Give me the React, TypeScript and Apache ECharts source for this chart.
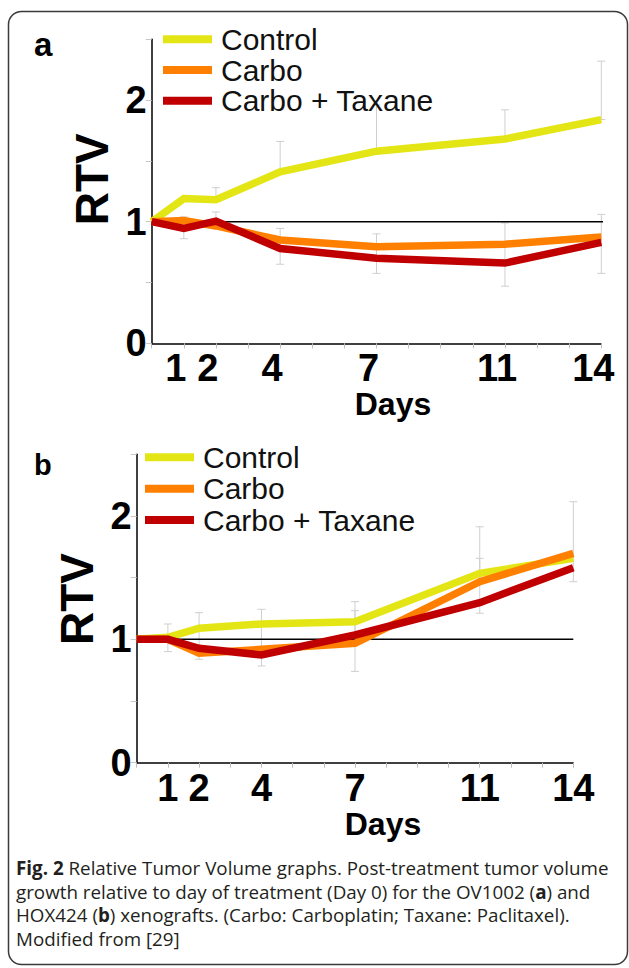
import React, { useEffect, useRef } from "react";
import * as echarts from "echarts";

// ---------- data ----------
const days = [0, 1, 2, 4, 7, 11, 14];
const labelledDays = [1, 2, 4, 7, 11, 14];
const seriesNames = ["Control", "Carbo", "Carbo + Taxane"];
const seriesColors = ["#e3e614", "#ff8000", "#c00000"];

// Panel a (OV1002)
const controlA = [1.0, 1.19, 1.18, 1.41, 1.58, 1.68, 1.84];
const carboA = [1.0, 1.01, 0.965, 0.85, 0.795, 0.815, 0.875];
const carboTaxaneA = [1.0, 0.945, 1.005, 0.78, 0.7, 0.66, 0.83];
const errDayA = [1, 2, 2, 4, 4, 7, 7, 11, 11, 14, 14];
const errLowA = [0.86, 1.18, 0.965, 1.41, 0.65, 1.58, 0.575, 1.68, 0.47, 1.84, 0.575];
const errHighA = [1.04, 1.28, 1.08, 1.66, 0.945, 1.96, 0.9, 1.92, 0.99, 2.32, 1.06];

// Panel b (HOX424)
const controlB = [1.0, 1.016, 1.09, 1.124, 1.143, 1.535, 1.656];
const carboB = [1.0, 1.0, 0.887, 0.919, 0.968, 1.467, 1.697];
const carboTaxaneB = [1.0, 1.0, 0.927, 0.873, 1.035, 1.297, 1.58];
const errDayB = [1, 2, 4, 7, 7, 11, 11, 14];
const errLowB = [0.9, 0.838, 0.784, 0.74, 1.035, 1.211, 1.467, 1.467];
const errHighB = [1.124, 1.216, 1.243, 1.305, 1.232, 1.912, 1.656, 2.115];

const refLineA = [[0, 1], [14.2, 1]];
const refLineB = [[0, 1], [14, 1]];

const yTicks = { min: 0, max: 2.5, interval: 0.5 };

const captionLines = [
  "{b|Fig. 2} Relative Tumor Volume graphs. Post-treatment tumor volume",
  "growth relative to day of treatment (Day 0) for the OV1002 ({b|a}) and",
  "HOX424 ({b|b}) xenografts. (Carbo: Carboplatin; Taxane: Paclitaxel).",
  "Modified from [29]",
];

const FONT = "'Liberation Sans', Arial, Helvetica, sans-serif";
const CAP_FONT = "'Open Sans', sans-serif";

function pairs(xs: number[], ys: number[]) {
  return xs.map((x, i) => [x, ys[i]]);
}
function triples(xs: number[], lo: number[], hi: number[]) {
  return xs.map((x, i) => [x, lo[i], hi[i]]);
}

function errRender(params: any, api: any) {
  const x = api.value(0);
  const pLo = api.coord([x, api.value(1)]);
  const pHi = api.coord([x, api.value(2)]);
  const w = 4;
  const st = { stroke: "#cfcfcf", lineWidth: 1 };
  return {
    type: "group",
    children: [
      { type: "line", shape: { x1: pLo[0], y1: pLo[1], x2: pHi[0], y2: pHi[1] }, style: st },
      { type: "line", shape: { x1: pLo[0] - w, y1: pLo[1], x2: pLo[0] + w, y2: pLo[1] }, style: st },
      { type: "line", shape: { x1: pHi[0] - w, y1: pHi[1], x2: pHi[0] + w, y2: pHi[1] }, style: st },
    ],
  };
}

function makeXAxis(gridIndex: number, labelPad: number[], nameGap: number, namePad: number[]) {
  return {
    type: "value",
    gridIndex,
    min: 0,
    max: 14,
    interval: 1,
    name: "Days",
    nameLocation: "middle",
    nameGap,
    nameTextStyle: { fontFamily: FONT, fontWeight: "bold", fontSize: 32, color: "#000", padding: namePad },
    axisLine: { show: true, onZero: false, lineStyle: { color: "#000", width: 1.5 } },
    axisTick: { show: true, length: 5, lineStyle: { color: "#bdbdbd", width: 1 } },
    splitLine: { show: false },
    axisLabel: {
      margin: 6,
      fontFamily: FONT,
      fontWeight: "bold",
      fontSize: 38,
      color: "#000",
      padding: labelPad,
      formatter: (v: number) => (labelledDays.includes(v) ? String(v) : ""),
    },
  };
}

function makeYAxis(gridIndex: number, nameGap: number, namePad: number[]) {
  return {
    type: "value",
    gridIndex,
    min: yTicks.min,
    max: yTicks.max,
    interval: yTicks.interval,
    name: "RTV",
    nameLocation: "middle",
    nameRotate: 90,
    nameGap,
    nameTextStyle: { fontFamily: FONT, fontWeight: "bold", fontSize: 46, color: "#000", padding: namePad },
    axisLine: { show: true, onZero: false, lineStyle: { color: "#000", width: 1.5 } },
    axisTick: { show: true, length: 6, lineStyle: { color: "#c8c8c8", width: 1 } },
    splitLine: { show: false },
    axisLabel: {
      margin: 5,
      fontFamily: FONT,
      fontWeight: "bold",
      fontSize: 38,
      color: "#000",
      padding: [0, 0, 10, 0],
      formatter: (v: number) => (Number.isInteger(v) ? String(v) : ""),
    },
  };
}

function lineSeries(name: string, color: string, data: number[][], idx: number, z: number) {
  return {
    type: "line",
    name,
    xAxisIndex: idx,
    yAxisIndex: idx,
    data,
    color,
    symbol: "none",
    z,
    lineStyle: { color, width: 7.5, join: "miter", cap: "butt" },
  };
}

function refSeries(data: number[][], idx: number) {
  return {
    type: "line",
    name: "ref" + idx,
    xAxisIndex: idx,
    yAxisIndex: idx,
    data,
    clip: false,
    symbol: "none",
    z: 5,
    silent: true,
    lineStyle: { color: "#000", width: 1.5 },
  };
}

function errSeries(data: number[][], idx: number) {
  return {
    type: "custom",
    name: "err" + idx,
    xAxisIndex: idx,
    yAxisIndex: idx,
    data,
    z: 1,
    silent: true,
    encode: { x: 0, y: [1, 2] },
    renderItem: errRender,
  };
}

function legendFor(left: number, top: number, gap: number) {
  return {
    data: seriesNames,
    orient: "vertical",
    left,
    top,
    padding: 0,
    itemWidth: 49,
    itemHeight: 8,
    itemGap: gap,
    icon: "rect",
    selectedMode: false,
    textStyle: {
      fontFamily: FONT,
      fontSize: 30,
      lineHeight: 30,
      color: "#111",
      padding: [0, 0, 0, 4],
    },
  };
}

export default function App() {
  const ref = useRef<HTMLDivElement>(null);
  useEffect(() => {
    if (!ref.current) return;
    const chart = echarts.init(ref.current, null, { renderer: "svg" });
    const option: any = {
      animation: false,
      backgroundColor: "#fff",
      grid: [
        { left: 151.7, right: 629 - 601.3, top: 39.3, height: 304, containLabel: false },
        { left: 136.7, right: 629 - 573.3, top: 454.2, height: 308.5, containLabel: false },
      ],
      xAxis: [
        makeXAxis(0, [0, 16, 0, 0], 44, [0, 0, 0, 33]),
        makeXAxis(1, [0, 0, 0, 0], 40, [0, 0, 0, 56]),
      ],
      yAxis: [makeYAxis(0, 36, [0, 0, 0, 24]), makeYAxis(1, 33, [0, 0, 0, 19])],
      legend: [legendFor(163, 24.3, 0.7), legendFor(145, 442.3, 1.35)],
      series: [
        errSeries(triples(errDayA, errLowA, errHighA), 0),
        refSeries(refLineA, 0),
        lineSeries(seriesNames[0], seriesColors[0], pairs(days, controlA), 0, 10),
        lineSeries(seriesNames[1], seriesColors[1], pairs(days, carboA), 0, 11),
        lineSeries(seriesNames[2], seriesColors[2], pairs(days, carboTaxaneA), 0, 12),
        errSeries(triples(errDayB, errLowB, errHighB), 1),
        refSeries(refLineB, 1),
        lineSeries(seriesNames[0], seriesColors[0], pairs(days, controlB), 1, 10),
        lineSeries(seriesNames[1], seriesColors[1], pairs(days, carboB), 1, 11),
        lineSeries(seriesNames[2], seriesColors[2], pairs(days, carboTaxaneB), 1, 12),
      ],
      graphic: [
        {
          type: "rect",
          shape: { x: 8.5, y: 11.5, width: 619, height: 953, r: 13 },
          style: { fill: "none", stroke: "#3a3a3a", lineWidth: 1.5 },
          silent: true,
        },
        {
          type: "text",
          x: 34,
          y: 44.5,
          style: { text: "a", font: `bold 33px ${FONT}`, fill: "#000", verticalAlign: "middle" },
        },
        {
          type: "text",
          x: 34,
          y: 465,
          style: { text: "b", font: `bold 29px ${FONT}`, fill: "#000", verticalAlign: "middle" },
        },
        ...captionLines.map((t, i) => ({
          type: "text",
          x: 16,
          y: 868 + i * 23.6,
          style: {
            text: t,
            fontFamily: CAP_FONT,
            fontSize: 18.8,
            fill: "#231f20",
            verticalAlign: "middle",
            rich: {
              b: { fontFamily: CAP_FONT, fontSize: 18.8, fontWeight: "bold", fill: "#231f20" },
            },
          },
        })),
      ],
    };
    chart.setOption(option);
    return () => chart.dispose();
  }, []);
  return (
    <div
      ref={ref}
      style={{ position: "absolute", left: 0, top: 0, width: 629, height: 968, background: "#fff" }}
    />
  );
}
